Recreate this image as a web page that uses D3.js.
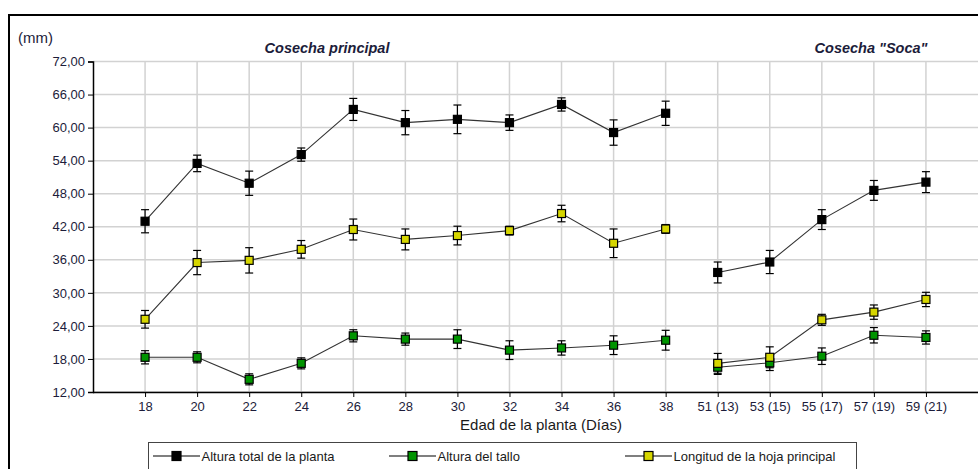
<!DOCTYPE html>
<html>
<head>
<meta charset="utf-8">
<script src="https://cdn.jsdelivr.net/npm/d3@7"></script>
<style>
  html, body { margin: 0; padding: 0; background: #fff; }
  svg { display: block; font-family: "Liberation Sans", Arial, sans-serif; }
</style>
</head>
<body>
<svg id="chart" width="978" height="469"></svg>
<script>
// Plant age in days: main harvest, then ratoon ("Soca") harvest
const principalDays = ["18", "20", "22", "24", "26", "28", "30", "32", "34", "36", "38"];
const socaDays = ["51 (13)", "53 (15)", "55 (17)", "57 (19)", "59 (21)"];

// Total plant height (mm) and its error
const alturaTotal    = [43.0, 53.5, 49.9, 55.1, 63.3, 60.9, 61.5, 60.9, 64.2, 59.1, 62.6,  33.7, 35.6, 43.3, 48.6, 50.1];
const alturaTotalErr = [2.1, 1.5, 2.2, 1.2, 2.0, 2.2, 2.6, 1.4, 1.2, 2.3, 2.2,  1.9, 2.1, 1.8, 1.8, 1.9];

// Stem height (mm) and its error
const alturaTallo    = [18.3, 18.3, 14.3, 17.2, 22.2, 21.6, 21.6, 19.6, 20.0, 20.5, 21.4,  16.5, 17.3, 18.5, 22.3, 21.9];
const alturaTalloErr = [1.2, 1.0, 1.0, 1.0, 1.1, 1.1, 1.7, 1.7, 1.3, 1.7, 1.8,  1.3, 1.4, 1.5, 1.4, 1.2];

// Main leaf length (mm) and its error
const longitudHoja    = [25.2, 35.5, 35.9, 37.9, 41.5, 39.7, 40.4, 41.3, 44.4, 39.0, 41.6,  17.2, 18.3, 25.1, 26.5, 28.8];
const longitudHojaErr = [1.6, 2.2, 2.3, 1.6, 1.9, 1.9, 1.7, 0.8, 1.5, 2.6, 0.8,  1.8, 1.9, 1.0, 1.3, 1.3];

const yTicks = [12, 18, 24, 30, 36, 42, 48, 54, 60, 66, 72];

const seriesNames = ["Altura total de la planta", "Altura del tallo", "Longitud de la hoja principal"];
const seriesColors = ["#000000", "#009400", "#d6d600"];

const categories = principalDays.concat(socaDays);
const series = [
  { name: seriesNames[0], color: seriesColors[0], values: alturaTotal, err: alturaTotalErr },
  { name: seriesNames[1], color: seriesColors[1], values: alturaTallo, err: alturaTalloErr },
  { name: seriesNames[2], color: seriesColors[2], values: longitudHoja, err: longitudHojaErr }
];

const svg = d3.select("#chart");
const textColor = "#1c1c3a";

const plot = { left: 93, right: 978, top: 61.5, bottom: 392 };

const x = d3.scalePoint().domain(categories).range([plot.left, plot.right]).padding(1);
const y = d3.scaleLinear().domain([12, 72]).range([plot.bottom, plot.top]);

// Outer frame
svg.append("rect")
  .attr("x", 9).attr("y", 15).attr("width", 1000).attr("height", 500)
  .attr("fill", "none").attr("stroke", "#000").attr("stroke-width", 2);

// Grid
const grid = svg.append("g").attr("stroke", "#d2d2d2").attr("stroke-width", 1.5);
grid.selectAll("line.h").data(yTicks).join("line")
  .attr("x1", plot.left).attr("x2", plot.right)
  .attr("y1", d => y(d)).attr("y2", d => y(d));
grid.selectAll("line.v").data(categories).join("line")
  .attr("x1", d => x(d)).attr("x2", d => x(d))
  .attr("y1", plot.top).attr("y2", plot.bottom);

// Axes
const yAxis = svg.append("g")
  .attr("transform", `translate(${plot.left},0)`)
  .call(d3.axisLeft(y).tickValues(yTicks).tickSize(5).tickPadding(3)
    .tickFormat(d => d3.format(".2f")(d).replace(".", ",")));
const xAxis = svg.append("g")
  .attr("transform", `translate(0,${plot.bottom})`)
  .call(d3.axisBottom(x).tickSize(5).tickPadding(5));
xAxis.select(".domain").attr("d", `M${plot.left},0.5H${plot.right}`);
[xAxis, yAxis].forEach(a => {
  a.select(".domain").attr("stroke", "#000").attr("stroke-width", 1.5);
  a.selectAll(".tick line").attr("stroke", "#000");
  a.selectAll(".tick text").attr("fill", textColor)
    .style("font-size", "13px").style("font-family", "'Liberation Sans', Arial, sans-serif");
});

// Lines (each harvest drawn as its own segment)
const line = d3.line().x(d => x(d.cat)).y(d => y(d.v));
const groups = [principalDays, socaDays];
series.forEach(s => {
  const pts = categories.map((c, i) => ({ cat: c, v: s.values[i], e: s.err[i] }));
  groups.forEach(g => {
    svg.append("path")
      .datum(pts.filter(p => g.includes(p.cat)))
      .attr("d", line)
      .attr("fill", "none").attr("stroke", "#333").attr("stroke-width", 1.1);
  });
  s.pts = pts;
});

// Error bars
series.forEach(s => {
  const eb = svg.append("g").attr("stroke", "#000").attr("stroke-width", 1.2);
  s.pts.forEach(p => {
    const cx = x(p.cat);
    eb.append("line").attr("x1", cx).attr("x2", cx).attr("y1", y(p.v + p.e)).attr("y2", y(p.v - p.e));
    eb.append("line").attr("x1", cx - 4).attr("x2", cx + 4).attr("y1", y(p.v + p.e)).attr("y2", y(p.v + p.e));
    eb.append("line").attr("x1", cx - 4).attr("x2", cx + 4).attr("y1", y(p.v - p.e)).attr("y2", y(p.v - p.e));
  });
});

// Markers
const ms = 8;
series.forEach(s => {
  svg.append("g").selectAll("rect").data(s.pts).join("rect")
    .attr("x", d => x(d.cat) - ms / 2).attr("y", d => y(d.v) - ms / 2)
    .attr("width", ms).attr("height", ms)
    .attr("fill", s.color).attr("stroke", "#000").attr("stroke-width", 1.2);
});

// Unit label and panel titles
svg.append("text").attr("x", 18).attr("y", 43).text("(mm)")
  .attr("fill", textColor).style("font-size", "15px");
const titleX1 = (x(principalDays[0]) + x(principalDays[principalDays.length - 1])) / 2;
svg.append("text").attr("x", 327).attr("y", 53).attr("text-anchor", "middle")
  .text("Cosecha principal")
  .attr("fill", textColor).style("font-size", "14.5px").style("font-weight", "bold").style("font-style", "italic");
svg.append("text").attr("x", 871).attr("y", 53).attr("text-anchor", "middle")
  .text("Cosecha \"Soca\"")
  .attr("fill", textColor).style("font-size", "14.5px").style("font-weight", "bold").style("font-style", "italic");

// X axis title
svg.append("text").attr("x", 541).attr("y", 430).attr("text-anchor", "middle")
  .text("Edad de la planta (Días)")
  .attr("fill", "#1a1a1a").style("font-size", "15px");

// Legend
const legend = svg.append("g");
legend.append("rect").attr("x", 148.5).attr("y", 442.5).attr("width", 708).attr("height", 40)
  .attr("fill", "#fff").attr("stroke", "#444").attr("stroke-width", 1);
const legendX = [153, 389, 625];
series.forEach((s, i) => {
  const g = legend.append("g").attr("transform", `translate(${legendX[i]},456)`);
  g.append("line").attr("x1", 0).attr("x2", 47).attr("y1", 0).attr("y2", 0)
    .attr("stroke", "#000").attr("stroke-width", 1.2);
  g.append("rect").attr("x", 23.5 - 4.5).attr("y", -4.5).attr("width", 9).attr("height", 9)
    .attr("fill", s.color).attr("stroke", "#000").attr("stroke-width", 1.2);
  g.append("text").attr("x", 48.5).attr("y", 4.5).text(s.name)
    .attr("fill", "#1a1a1a").style("font-size", "13px");
});
</script>
</body>
</html>
